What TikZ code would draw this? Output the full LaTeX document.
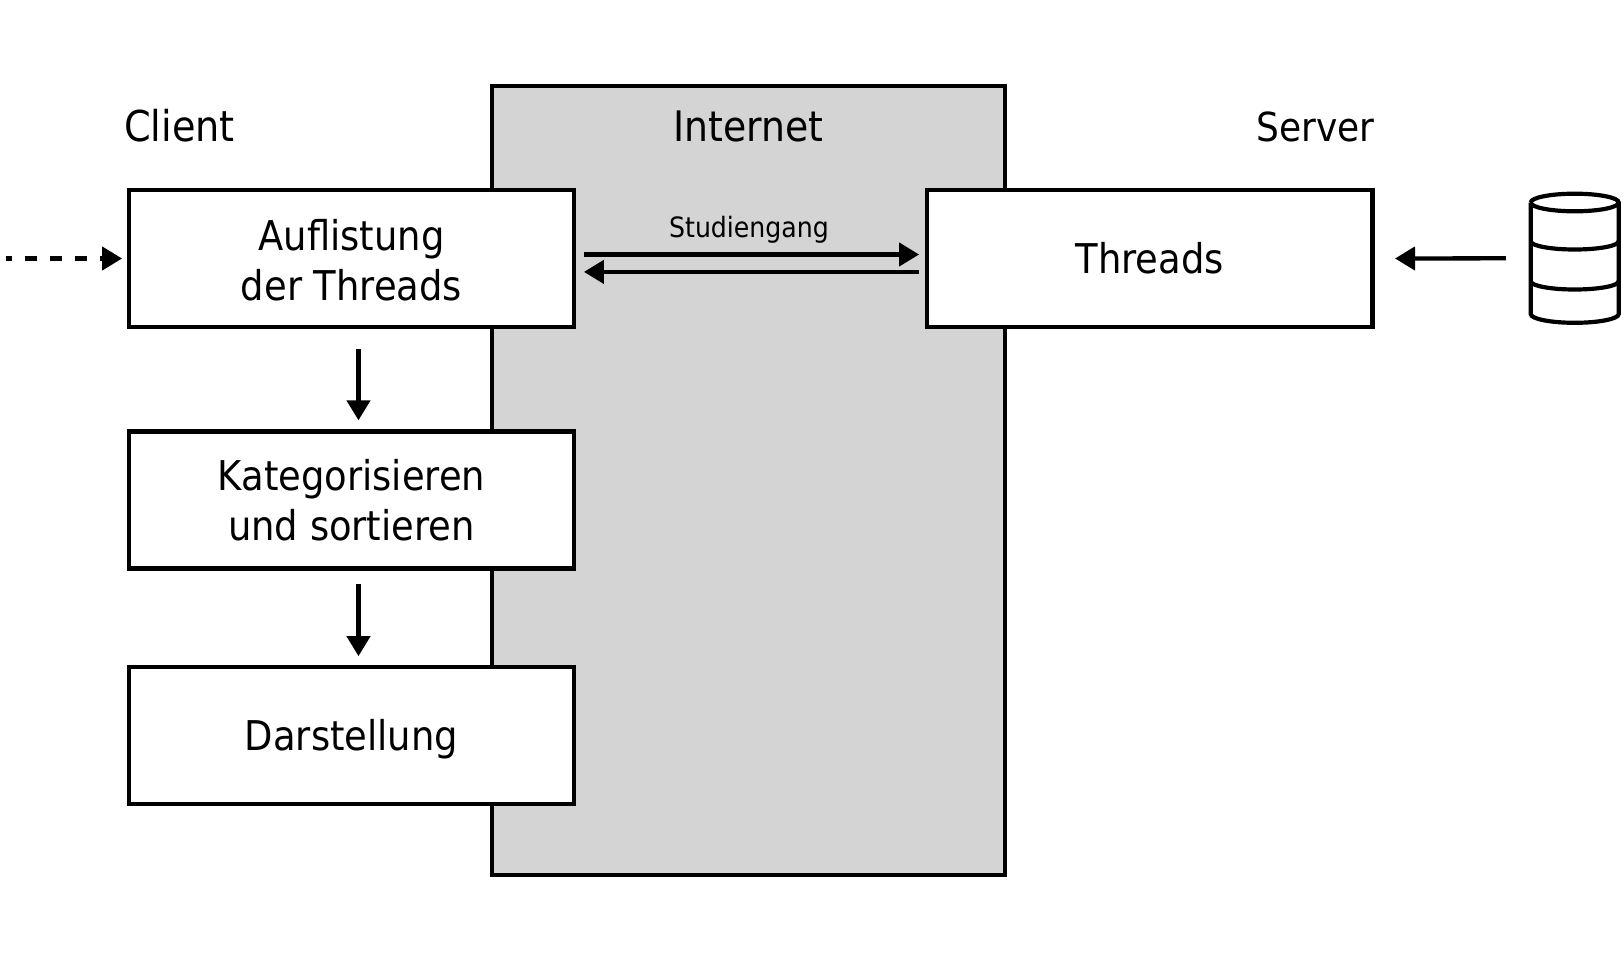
\documentclass[tikz,border=0pt]{standalone}
\usepackage{fontspec}
\setmainfont{DejaVu Sans Condensed}
\usetikzlibrary{arrows.meta,calc}
\tikzset{
  x=1pt,y=-1pt,
  boxnode/.style={draw=black,fill=white,line width=4.3pt,minimum width=445.5pt,minimum height=137pt,align=center,font=\fontsize{41}{50}\selectfont,inner sep=0pt},
  headlabel/.style={inner sep=0pt},
  arr/.style={draw=black,line width=4.3pt,-{Triangle[length=20pt,width=23pt]}},
}
\begin{document}
\begin{tikzpicture}
\useasboundingbox (0,0) rectangle (1624,953);
\fill[white] (0,0) rectangle (1624,953);
\node[draw=black,fill=black!17,line width=4.3pt,minimum width=513pt,minimum height=788.5pt,inner sep=0pt] (net) at (748.8,480.5) {};
\node[boxnode] (list) at (351.5,258.5) {\rule{0pt}{35pt}Auflistung\\der Threads};
\node[boxnode] (kat) at (351.5,500) {Kategorisieren\\und sortieren};
\node[boxnode] (dar) at (351.5,735.3) {\rule{0pt}{39pt}Darstellung};
\node[boxnode] (thr) at (1149.7,258.5) {Threads};
\node[headlabel,anchor=base west,font=\fontsize{42.5}{50}\selectfont] (cl) at (124,141) {Client};
\node[headlabel,anchor=base,font=\fontsize{42}{50}\selectfont] (in) at (748.6,141) {Internet};
\node[headlabel,anchor=base east,font=\fontsize{40}{50}\selectfont] (se) at (1374.5,141) {Server};
\node[font=\fontsize{28}{34}\selectfont,inner sep=0pt,anchor=base] (st) at (749,237) {Studiengang};
% database
\node[minimum width=88pt,minimum height=121pt,inner sep=0pt] (db) at (1574.7,262) {};
\begin{scope}[line width=4.2pt,draw=black]
\draw (1530.7,202.5) arc[start angle=180,end angle=-180,x radius=44,y radius=-8.8];
\draw (1530.7,202.5) -- (1530.7,314) arc[start angle=180,end angle=360,x radius=44,y radius=-8.8] -- (1618.7,202.5);
\draw (1530.7,241.2) arc[start angle=180,end angle=360,x radius=44,y radius=-8.3];
\draw (1530.7,281.2) arc[start angle=180,end angle=360,x radius=44,y radius=-8.3];
\end{scope}
% connectors
\coordinate (src) at (6,258.5);
\draw[arr,dash pattern=on 12.5pt off 12.5pt,dash phase=6.5pt] (src) -- ([xshift=-4.5pt]list.west);
\draw[arr] ([xshift=7pt,yshift=-20pt]list.south) -- ([xshift=7pt,yshift=9pt]kat.north);
\draw[arr] ([xshift=7pt,yshift=-13.5pt]kat.south) -- ([xshift=7pt,yshift=8.5pt]dar.north);
\draw[arr] ([xshift=7.5pt,yshift=4pt]list.east) -- ([xshift=-5.7pt,yshift=4pt]thr.west);
\draw[arr] ([xshift=-5.7pt,yshift=-13.4pt]thr.west) -- ([xshift=7.5pt,yshift=-13.4pt]list.east);
\draw[arr] ([xshift=-24.7pt,yshift=3.7pt]db.west) -- ([xshift=20.4pt]thr.east);
\end{tikzpicture}
\end{document}
